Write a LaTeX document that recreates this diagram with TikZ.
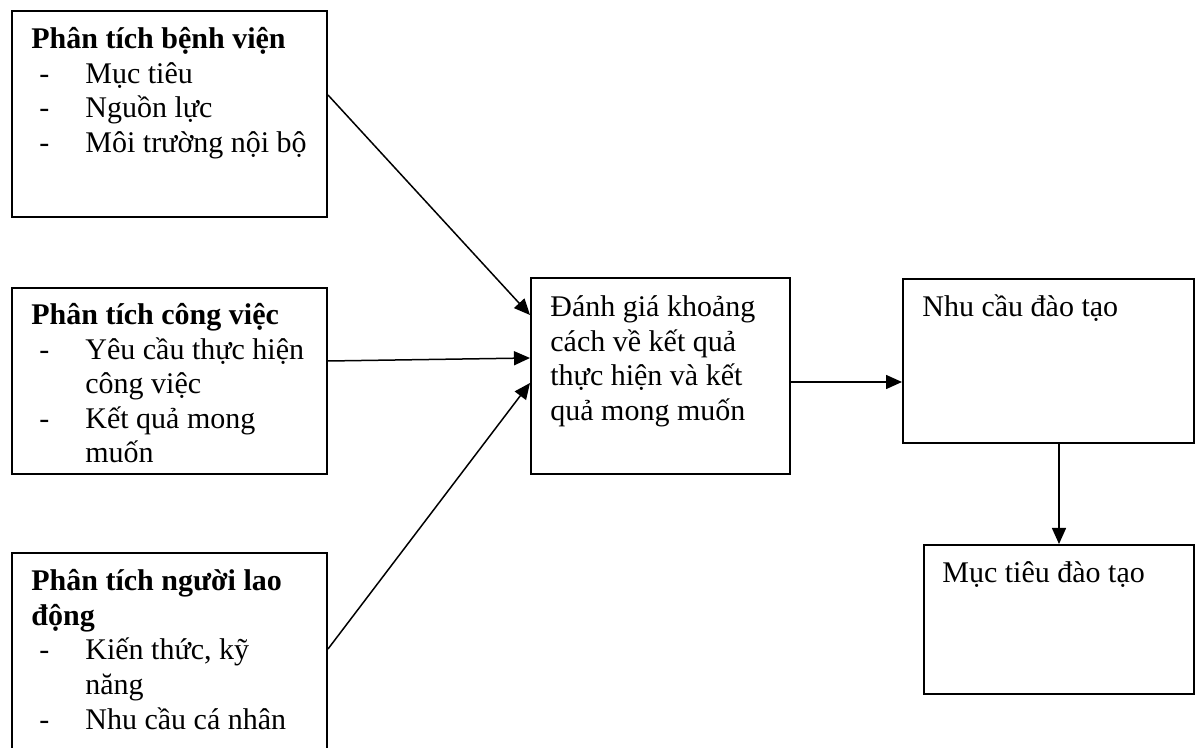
\documentclass[tikz,border=0pt]{standalone}
\usepackage{fontspec}
\setmainfont{Liberation Serif}
\usetikzlibrary{arrows.meta,calc}
\tikzset{
  boxst/.style={draw=black, line width=1pt, rectangle, inner sep=0pt, anchor=north west},
  txt/.style={anchor=base west, inner sep=0pt, font=\fontsize{15pt}{17.25pt}\selectfont},
  ttl/.style={txt, font=\fontsize{15pt}{17.25pt}\selectfont\bfseries},
  arr/.style={draw=black, line width=0.75pt, -{Triangle[length=8pt,width=7pt]}}
}
\begin{document}
\begin{tikzpicture}[x=0.5pt,y=-0.5pt]
\useasboundingbox (0,0) rectangle (1195,748);
\begin{scope}
\clip (0,0) rectangle (1195,748);
% boxes
\node[boxst, minimum width=157.5pt, minimum height=103pt] (b1) at (11,10) {};
\node[boxst, minimum width=157.5pt, minimum height=93pt] (b2) at (11,287) {};
\node[boxst, minimum width=157.5pt, minimum height=105pt] (b3) at (11,552) {};
\node[boxst, minimum width=129.5pt, minimum height=98pt] (c) at (530,277) {};
\node[boxst, minimum width=145.5pt, minimum height=82pt] (n) at (902,278) {};
\node[boxst, minimum width=135pt, minimum height=74.5pt] (m) at (923,544) {};
\end{scope}
% box 1 text
\node[ttl] (t1) at (31,49) {Phân tích bệnh viện};
\node[txt] (d11) at (39,83.5) {-};
\node[txt] (i11) at (85,83.5) {Mục tiêu};
\node[txt] (d12) at (39,118) {-};
\node[txt] (i12) at (85,118) {Nguồn lực};
\node[txt] (d13) at (39,152.5) {-};
\node[txt] (i13) at (85,152.5) {Môi trường nội bộ};
% box 2 text
\node[ttl] (t2) at (31,325) {Phân tích công việc};
\node[txt] (d21) at (39,359.5) {-};
\node[txt] (i21) at (85,359.5) {Yêu cầu thực hiện};
\node[txt] (i21b) at (85,394) {công việc};
\node[txt] (d22) at (39,428.5) {-};
\node[txt] (i22) at (85,428.5) {Kết quả mong};
\node[txt] (i22b) at (85,463) {muốn};
% box 3 text
\node[ttl] (t3) at (31,591) {Phân tích người lao};
\node[ttl] (t3b) at (31,625.5) {động};
\node[txt] (d31) at (39,660) {-};
\node[txt] (i31) at (85,660) {Kiến thức, kỹ};
\node[txt] (i31b) at (85,694.5) {năng};
\node[txt] (d32) at (39,729) {-};
\node[txt] (i32) at (85,729) {Nhu cầu cá nhân};
% centre text
\node[txt] (c1) at (550,317) {Đánh giá khoảng};
\node[txt] (c2) at (550,351.5) {cách về kết quả};
\node[txt] (c3) at (550,386) {thực hiện và kết};
\node[txt] (c4) at (550,420.5) {quả mong muốn};
% right texts
\node[txt] (nt) at (922,317) {Nhu cầu đào tạo};
\node[txt] (mt) at (942,582) {Mục tiêu đào tạo};
% arrows
\draw[arr] ($(b1.north east)+(0,85)$) -- ($(c.north west)+(0,38)$);
\draw[arr] ($(b2.north east)+(0,74)$) -- ($(c.north west)+(0,81)$);
\draw[arr] ($(b3.north east)+(0,97)$) -- ($(c.north west)+(0,106)$);
\draw[arr] ($(c.north east)+(0,105)$) -- ($(n.north west)+(0,104)$);
\draw[arr] ($(n.south west)+(157,0)$) -- ($(m.north west)+(136,0)$);
\end{tikzpicture}
\end{document}
